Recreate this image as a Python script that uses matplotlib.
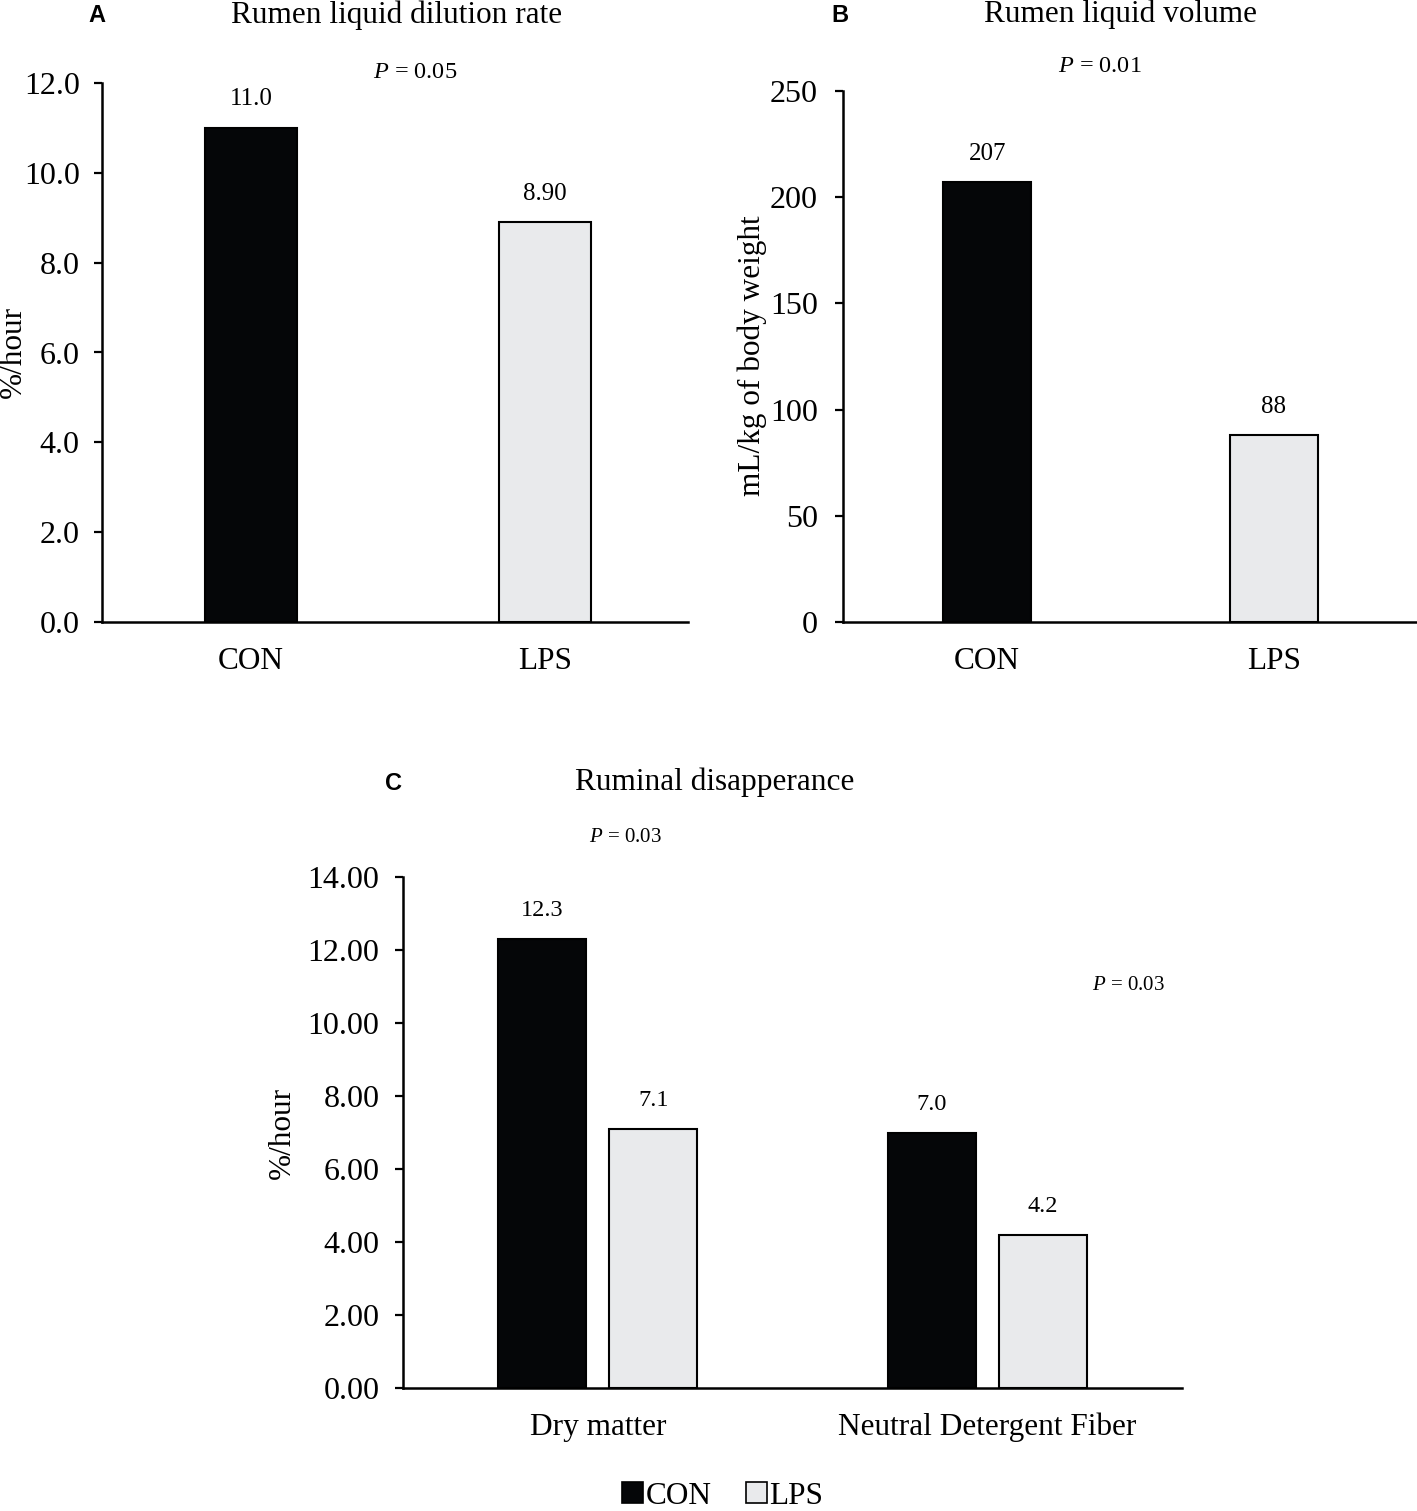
import matplotlib
matplotlib.use("Agg")
import matplotlib.pyplot as plt
from matplotlib.patches import Patch
import numpy as np

plt.rcParams['font.family'] = ['Liberation Serif', 'DejaVu Serif']
plt.rcParams['mathtext.fontset'] = 'custom'
plt.rcParams['mathtext.rm'] = 'Liberation Serif'
plt.rcParams['mathtext.it'] = 'Liberation Serif:italic'

# ---- data ----
a_categories = ["CON", "LPS"]
a_values = [11.0, 8.90]
a_labels = ["11.0", "8.90"]

b_categories = ["CON", "LPS"]
b_values = [207, 88]
b_labels = ["207", "88"]

c_categories = ["Dry matter", "Neutral Detergent Fiber"]
c_con = [12.3, 7.0]
c_lps = [7.1, 4.2]
c_con_labels = ["12.3", "7.0"]
c_lps_labels = ["7.1", "4.2"]

CON_COLOR = "#050608"
LPS_COLOR = "#e9eaec"

W, H = 1417, 1511
fig = plt.figure(figsize=(W / 100, H / 100), dpi=100)

def fx(px):
    return px / W

def fy(py):
    return 1 - py / H

def style_axes(ax, ylim, ticks, fmt, pad):
    ax.set_ylim(*ylim)
    ax.set_yticks(ticks)
    ax.set_yticklabels([fmt.format(t) for t in ticks])
    for s in ["top", "right"]:
        ax.spines[s].set_visible(False)
    for s in ["left", "bottom"]:
        ax.spines[s].set_linewidth(1.8)
        ax.spines[s].set_color("black")
    ax.tick_params(axis="y", direction="out", length=6, width=1.6, labelsize=23, pad=pad)
    ax.tick_params(axis="x", length=0, labelsize=22.5, pad=18)

def label_bars(ax, xs, vals, labels, size):
    for x, v, l in zip(xs, vals, labels):
        ax.annotate(l, (x, v), xytext=(0, 20.5), textcoords="offset points",
                    ha="center", va="center", fontsize=size)

# ---- Panel A ----
axA = fig.add_axes([fx(102), fy(622), fx(688 - 102), (622 - 83) / H])
xa = np.arange(len(a_categories))
axA.bar(xa, a_values, width=0.313, color=[CON_COLOR, LPS_COLOR],
        edgecolor="black", linewidth=1.5)
axA.set_xlim(-0.507, 1.486)
axA.set_xticks(xa)
axA.set_xticklabels(a_categories)
style_axes(axA, (0, 12), np.arange(0, 12.1, 2), "{:.1f}", 10)
label_bars(axA, xa, a_values, a_labels, 18)
fig.text(fx(13), fy(352), "%/hour", rotation=90, ha="center", va="center", fontsize=22.5)
fig.text(fx(397), fy(15), "Rumen liquid dilution rate", ha="center", va="center", fontsize=22.5)
fig.text(fx(415), fy(73), r"$P$ = 0.05", ha="center", va="center", fontsize=17.5)
fig.text(fx(97), fy(16), "A", ha="center", va="center", fontsize=17,
         fontweight="bold", family="Liberation Sans")

# ---- Panel B ----
axB = fig.add_axes([fx(843), fy(622), fx(1417 - 843), (622 - 91) / H])
xb = np.arange(len(b_categories))
axB.bar(xb, b_values, width=0.307, color=[CON_COLOR, LPS_COLOR],
        edgecolor="black", linewidth=1.5)
axB.set_xlim(-0.503, 1.50)
axB.set_xticks(xb)
axB.set_xticklabels(b_categories)
style_axes(axB, (0, 250), np.arange(0, 251, 50), "{:.0f}", 12)
label_bars(axB, xb, b_values, b_labels, 18)
fig.text(fx(752), fy(356), "mL/kg of body weight", rotation=90, ha="center", va="center", fontsize=22.5)
fig.text(fx(1120), fy(14), "Rumen liquid volume", ha="center", va="center", fontsize=22.5)
fig.text(fx(1100), fy(67), r"$P$ = 0.01", ha="center", va="center", fontsize=17.5)
fig.text(fx(840), fy(15), "B", ha="center", va="center", fontsize=17,
         fontweight="bold", family="Liberation Sans")

# ---- Panel C ----
axC = fig.add_axes([fx(403), fy(1388), fx(1182 - 403), (1388 - 877) / H])
xc = np.arange(len(c_categories))
bw = 0.226
off = 0.1425
axC.bar(xc - off, c_con, width=bw, color=CON_COLOR, edgecolor="black", linewidth=1.5)
axC.bar(xc + off, c_lps, width=bw, color=LPS_COLOR, edgecolor="black", linewidth=1.5)
axC.set_xlim(-0.5, 1.5)
axC.set_xticks(xc)
axC.set_xticklabels(c_categories)
style_axes(axC, (0, 14), np.arange(0, 14.1, 2), "{:.2f}", 11)
label_bars(axC, xc - off, c_con, c_con_labels, 17.5)
label_bars(axC, xc + off, c_lps, c_lps_labels, 17.5)
fig.text(fx(282), fy(1133), "%/hour", rotation=90, ha="center", va="center", fontsize=22.5)
fig.text(fx(715), fy(782), "Ruminal disapperance", ha="center", va="center", fontsize=22.5)
fig.text(fx(625), fy(838), r"$P$ = 0.03", ha="center", va="center", fontsize=15)
fig.text(fx(1128), fy(985), r"$P$ = 0.03", ha="center", va="center", fontsize=15)
fig.text(fx(393), fy(783), "C", ha="center", va="center", fontsize=17,
         fontweight="bold", family="Liberation Sans")

handles = [Patch(facecolor=CON_COLOR, edgecolor="black", linewidth=1.2, label="CON"),
           Patch(facecolor=LPS_COLOR, edgecolor="black", linewidth=1.2, label="LPS")]
fig.legend(handles=handles, loc="center", bbox_to_anchor=(fx(723), fy(1496)), ncol=2,
           frameon=False, fontsize=22.5, handlelength=0.65, handleheight=0.65,
           handletextpad=0.1, columnspacing=1.1, borderaxespad=0)

fig.savefig("out.png", dpi=100)
